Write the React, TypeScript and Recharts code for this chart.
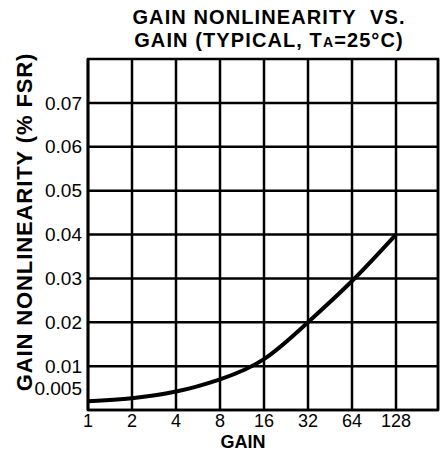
import {
  LineChart,
  Line,
  XAxis,
  YAxis,
  CartesianGrid,
  ReferenceLine,
  ReferenceArea,
} from "recharts";

const gains = [1, 2, 4, 8, 16, 32, 64, 128];
const nonlinearity = [0.002, 0.0027, 0.0042, 0.007, 0.0116, 0.02, 0.0294, 0.04];

const xTicks = [1, 2, 4, 8, 16, 32, 64, 128];
const yTicks = [0.005, 0.01, 0.02, 0.03, 0.04, 0.05, 0.06, 0.07];
const yGrid = [0.01, 0.02, 0.03, 0.04, 0.05, 0.06, 0.07];

const data = gains.map((g, i) => ({ gain: g, value: nonlinearity[i] }));

const font = "'Liberation Sans', Arial, sans-serif";
const ink = "#000";

export default function App() {
  return (
    <div
      style={{
        position: "absolute",
        left: 0,
        top: 0,
        width: 441,
        height: 451,
        background: "#fff",
        fontFamily: font,
        color: ink,
      }}
    >
      <div
        style={{
          position: "absolute",
          left: 269,
          top: 6,
          transform: "translateX(-50%)",
          whiteSpace: "nowrap",
          textAlign: "center",
          fontWeight: "bold",
          fontSize: 20,
          letterSpacing: 1.1,
          lineHeight: "23px",
        }}
      >
        <div>GAIN NONLINEARITY&nbsp; VS.</div>
        <div>
          GAIN (TYPICAL, T<span style={{ fontSize: 14 }}>A</span>=25°C)
        </div>
      </div>

      <div
        style={{
          position: "absolute",
          left: 25,
          top: 222,
          transform: "translate(-50%, -50%) rotate(-90deg)",
          whiteSpace: "nowrap",
          fontWeight: "bold",
          fontSize: 22,
          letterSpacing: 0.9,
          lineHeight: "22px",
        }}
      >
        GAIN NONLINEARITY (% FSR)
      </div>

      <div
        style={{
          position: "absolute",
          left: 243,
          top: 442,
          transform: "translate(-50%, -50%)",
          whiteSpace: "nowrap",
          fontWeight: "bold",
          fontSize: 18,
          lineHeight: "16px",
        }}
      >
        GAIN
      </div>

      <LineChart
        width={441}
        height={451}
        data={data}
        margin={{ top: 59, right: 3, bottom: 0, left: 0 }}
      >
        <CartesianGrid horizontal={false} stroke={ink} strokeWidth={2.5} />
        {yGrid.map((v) => (
          <ReferenceLine key={v} y={v} stroke={ink} strokeWidth={2.5} />
        ))}
        <ReferenceArea
          x1={1}
          x2={248}
          y1={0}
          y2={0.08}
          fill="none"
          stroke={ink}
          strokeWidth={2.5}
          fillOpacity={0}
        />
        <XAxis
          dataKey="gain"
          type="number"
          scale="log"
          domain={[1, 248]}
          ticks={xTicks}
          allowDataOverflow
          height={41}
          tickLine={false}
          axisLine={{ stroke: ink, strokeWidth: 2.5 }}
          tickMargin={-2}
          tick={{ fill: ink, fontSize: 18, fontFamily: font }}
        />
        <YAxis
          type="number"
          domain={[0, 0.08]}
          ticks={yTicks}
          width={88}
          tickLine={false}
          axisLine={{ stroke: ink, strokeWidth: 2.5 }}
          tickMargin={0}
          interval={0}
          tick={{ fill: ink, fontSize: 19, fontFamily: font }}
        />
        <Line
          type="natural"
          dataKey="value"
          stroke={ink}
          strokeWidth={4}
          dot={false}
          isAnimationActive={false}
        />
      </LineChart>
    </div>
  );
}
